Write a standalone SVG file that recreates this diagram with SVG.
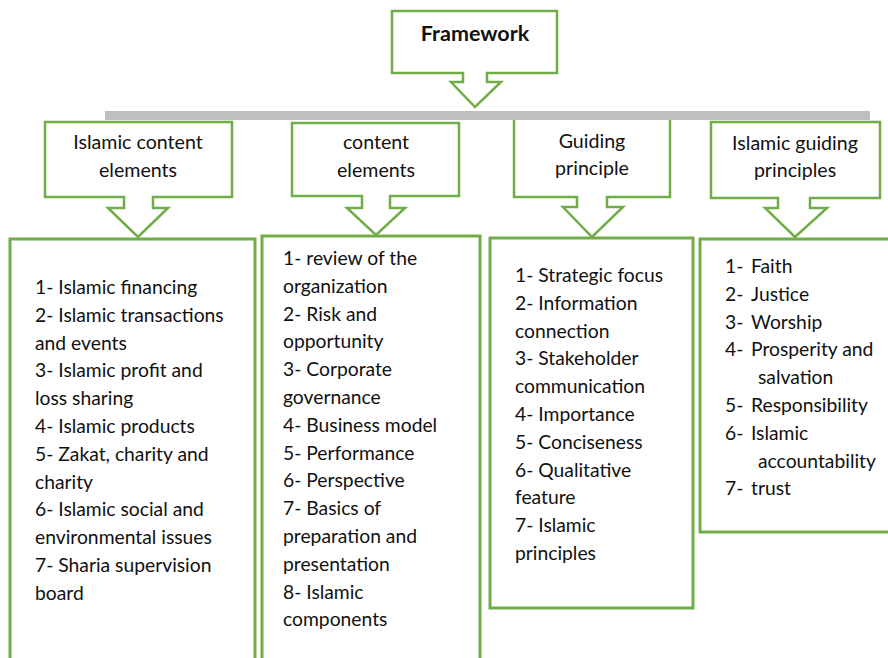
<svg xmlns="http://www.w3.org/2000/svg" width="888" height="658" viewBox="0 0 888 658">
  <style>
    .frame { fill: #ffffff; stroke: #70AD47; stroke-width: 2.5; stroke-linejoin: miter; }
    .panel { fill: #ffffff; stroke: #70AD47; stroke-width: 3; }
    .bar { fill: #BFBFBF; }
    text { font-family: Lato, "Open Sans", "Liberation Sans", sans-serif; font-size: 19.3px; fill: #111111; }
    .head { text-anchor: middle; font-size: 19.6px; }
    .title { font-weight: bold; font-size: 21.5px; }
  </style>

  <rect width="888" height="658" fill="#ffffff"/>

  <!-- top-level callout -->
  <g id="framework">
    <path class="frame" d="M392,11 H557 V73 H487 V82 H501 L475,107 L451,82 H463 V73 H392 Z"/>
    <text class="head title" x="475" y="41">Framework</text>
  </g>

  <!-- category callouts -->
  <g id="islamic-content-elements">
    <path class="frame" d="M45,122 H232 V197 H153 V208 H168 L138,237 L108,208 H124 V197 H45 Z"/>
    <text class="head" x="138" y="149">Islamic content</text>
    <text class="head" x="138" y="177">elements</text>
  </g>

  <g id="content-elements">
    <path class="frame" d="M292,123 H459 V196 H390 V208 H405 L376,235 L347,208 H362 V196 H292 Z"/>
    <text class="head" x="376" y="149">content</text>
    <text class="head" x="376" y="177">elements</text>
  </g>

  <g id="guiding-principle">
    <path class="frame" d="M514,116 H670 V197 H607 V207 H623 L592,237 L563,207 H577 V197 H514 Z"/>
    <text class="head" x="592" y="148">Guiding</text>
    <text class="head" x="592" y="175">principle</text>
  </g>

  <g id="islamic-guiding-principles">
    <path class="frame" d="M711,122 H880 V198 H810 V208 H827 L795,237 L765,208 H778 V198 H711 Z"/>
    <text class="head" x="795" y="150">Islamic guiding</text>
    <text class="head" x="795" y="177">principles</text>
  </g>

  <!-- horizontal connector bar -->
  <g id="connectors">
    <rect class="bar" x="105" y="111" width="765" height="9"/>
  </g>

  <!-- item lists -->
  <g id="list-islamic-content">
    <rect class="panel" x="10" y="239" width="245" height="440"/>
    <text x="35" y="294">
      <tspan x="35" dy="0">1- Islamic financing</tspan>
      <tspan x="35" dy="27.8">2- Islamic transactions</tspan>
      <tspan x="35" dy="27.8">and events</tspan>
      <tspan x="35" dy="27.8">3- Islamic profit and</tspan>
      <tspan x="35" dy="27.8">loss sharing</tspan>
      <tspan x="35" dy="27.8">4- Islamic products</tspan>
      <tspan x="35" dy="27.8">5- Zakat, charity and</tspan>
      <tspan x="35" dy="27.8">charity</tspan>
      <tspan x="35" dy="27.8">6- Islamic social and</tspan>
      <tspan x="35" dy="27.8">environmental issues</tspan>
      <tspan x="35" dy="27.8">7- Sharia supervision</tspan>
      <tspan x="35" dy="27.8">board</tspan>
    </text>
  </g>

  <g id="list-content">
    <rect class="panel" x="262" y="236" width="218" height="440"/>
    <text x="283" y="265">
      <tspan x="283" dy="0">1- review of the</tspan>
      <tspan x="283" dy="27.8">organization</tspan>
      <tspan x="283" dy="27.8">2- Risk and</tspan>
      <tspan x="283" dy="27.8">opportunity</tspan>
      <tspan x="283" dy="27.8">3- Corporate</tspan>
      <tspan x="283" dy="27.8">governance</tspan>
      <tspan x="283" dy="27.8">4- Business model</tspan>
      <tspan x="283" dy="27.8">5- Performance</tspan>
      <tspan x="283" dy="27.8">6- Perspective</tspan>
      <tspan x="283" dy="27.8">7- Basics of</tspan>
      <tspan x="283" dy="27.8">preparation and</tspan>
      <tspan x="283" dy="27.8">presentation</tspan>
      <tspan x="283" dy="27.8">8- Islamic</tspan>
      <tspan x="283" dy="27.8">components</tspan>
    </text>
  </g>

  <g id="list-guiding">
    <rect class="panel" x="490" y="238" width="203" height="370"/>
    <text x="515" y="282">
      <tspan x="515" dy="0">1- Strategic focus</tspan>
      <tspan x="515" dy="27.8">2- Information</tspan>
      <tspan x="515" dy="27.8">connection</tspan>
      <tspan x="515" dy="27.8">3- Stakeholder</tspan>
      <tspan x="515" dy="27.8">communication</tspan>
      <tspan x="515" dy="27.8">4- Importance</tspan>
      <tspan x="515" dy="27.8">5- Conciseness</tspan>
      <tspan x="515" dy="27.8">6- Qualitative</tspan>
      <tspan x="515" dy="27.8">feature</tspan>
      <tspan x="515" dy="27.8">7- Islamic</tspan>
      <tspan x="515" dy="27.8">principles</tspan>
    </text>
  </g>

  <g id="list-islamic-guiding">
    <rect class="panel" x="700" y="239" width="200" height="293"/>
    <text y="273"><tspan x="725">1-</tspan><tspan x="751">Faith</tspan></text>
    <text y="300.8"><tspan x="725">2-</tspan><tspan x="751">Justice</tspan></text>
    <text y="328.6"><tspan x="725">3-</tspan><tspan x="751">Worship</tspan></text>
    <text y="356.4"><tspan x="725">4-</tspan><tspan x="751">Prosperity and</tspan></text>
    <text x="758" y="384.2">salvation</text>
    <text y="412"><tspan x="725">5-</tspan><tspan x="751">Responsibility</tspan></text>
    <text y="439.8"><tspan x="725">6-</tspan><tspan x="751">Islamic</tspan></text>
    <text x="758" y="467.6">accountability</text>
    <text y="495.4"><tspan x="725">7-</tspan><tspan x="751">trust</tspan></text>
  </g>
</svg>
